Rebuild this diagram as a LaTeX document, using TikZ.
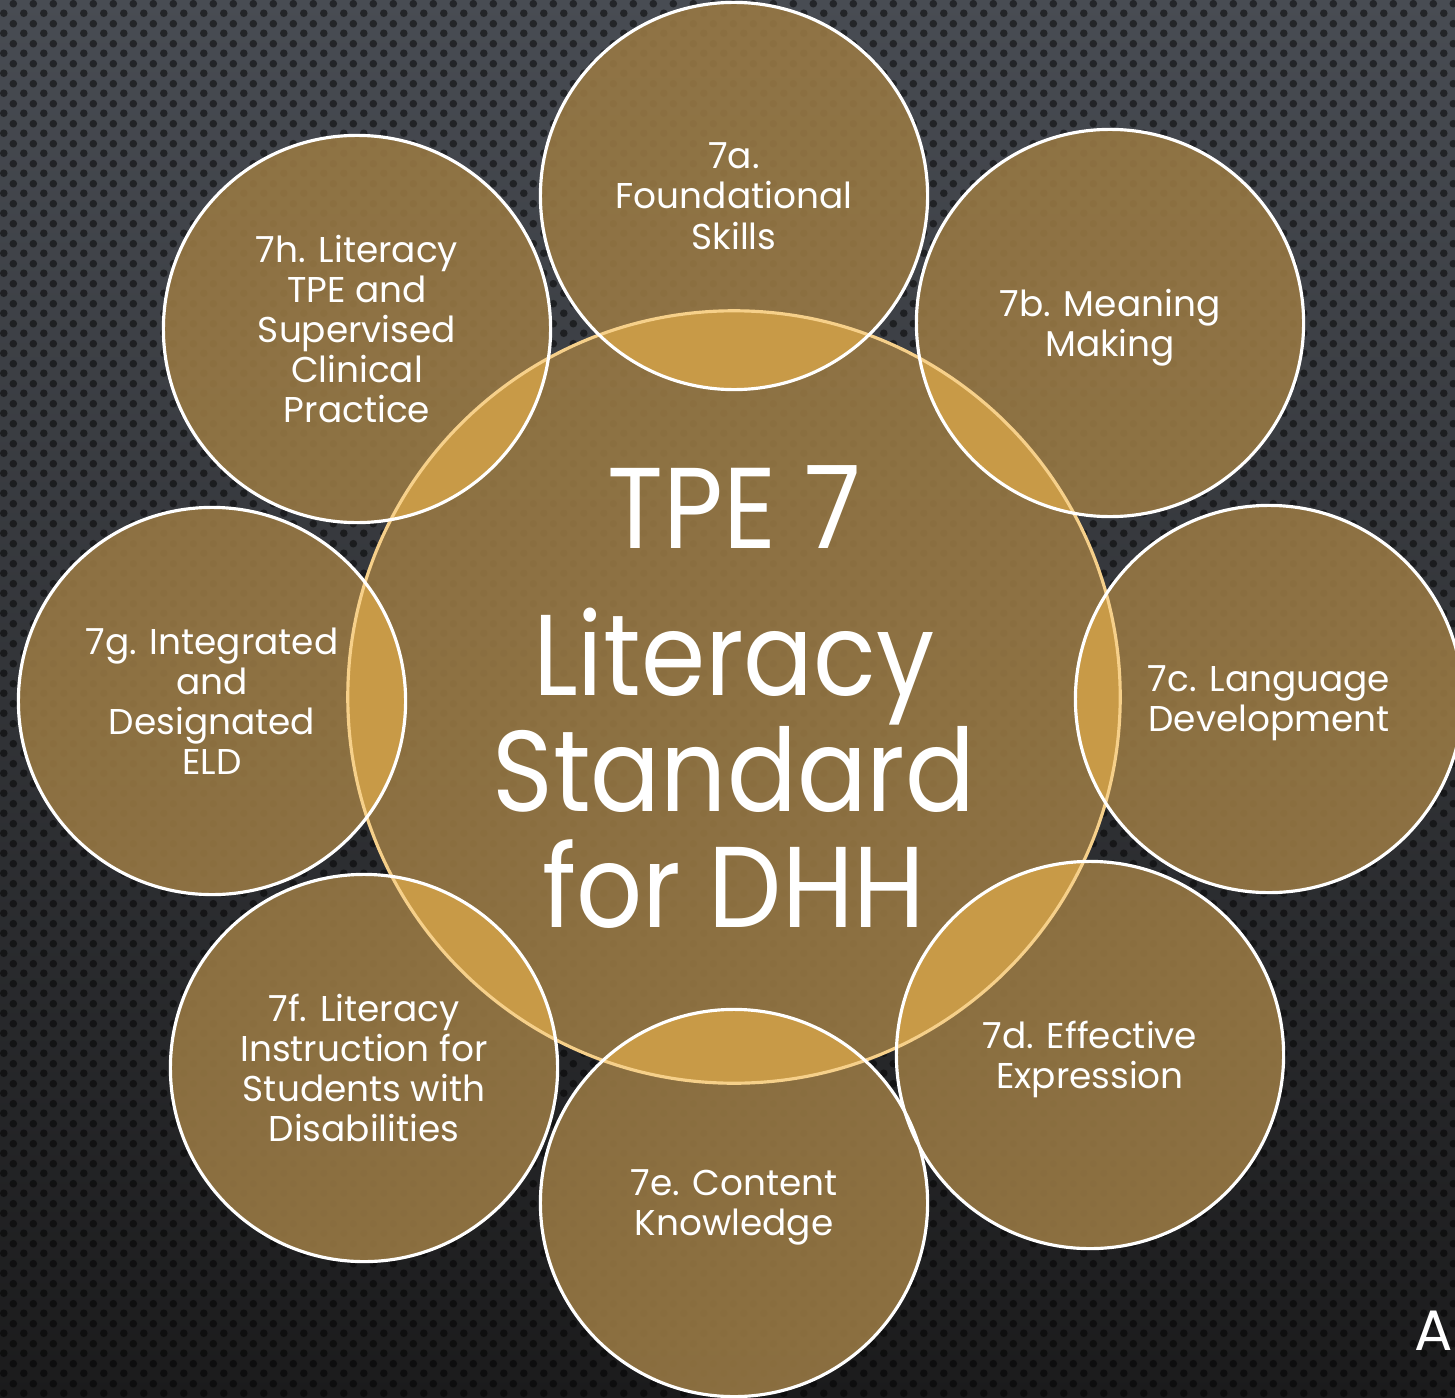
\documentclass[tikz,border=0pt]{standalone}
\usepackage{fontspec}
\setmainfont{Poppins}
\newfontfamily\corefont{Poppins}[FakeStretch=0.9]
\usetikzlibrary{patterns}
\definecolor{bgtop}{HTML}{484C53}
\definecolor{bgmid}{HTML}{2C2F34}
\definecolor{bgbot}{HTML}{1B1B1C}
\definecolor{gold}{HTML}{977844}
\definecolor{lensgold}{HTML}{CE9E48}
\definecolor{ringgold}{HTML}{F6D08A}
\pgfdeclarepatternformonly{bgdots}{\pgfqpoint{0cm}{0cm}}{\pgfqpoint{0.2cm}{0.2cm}}{\pgfqpoint{0.2cm}{0.2cm}}{%
 \pgfpathcircle{\pgfqpoint{0.05cm}{0.05cm}}{0.04cm}%
 \pgfpathcircle{\pgfqpoint{0.15cm}{0.15cm}}{0.04cm}%
 \pgfusepath{fill}}
\tikzset{
 petal/.style={circle,minimum size=3.87cm,inner sep=0pt,fill=gold,fill opacity=0.9,text opacity=1,text=white,align=center,text depth=0pt,font=\fontsize{10.2}{11.4}\selectfont},
 core/.style={circle,minimum size=7.72cm,inner sep=0pt,fill=gold,fill opacity=0.9,text opacity=1,text=white,align=center,font=\corefont\fontsize{32.7}{33}\selectfont},
}
\begin{document}
\begin{tikzpicture}[x=0.01cm,y=-0.01cm]
 \useasboundingbox (0,0) rectangle (1455,1397); %画面全体
 \shade[top color=bgtop,middle color=bgmid,bottom color=bgbot] (0,0) rectangle (1455,1397); %背景のグラデーション
 \fill[pattern=bgdots,pattern color=black,fill opacity=0.5] (0,0) rectangle (1455,1397); %背景の水玉
 \node[core] (core) at (734,697) {TPE 7\\[9pt]Literacy\\Standard\\for DHH}; %中央の大きな円
 \node[petal] (found) at (734,196) {7a.\\Foundational\\Skills}; %7a
 \node[petal] (meaning) at (1110,323) {7b. Meaning\\Making}; %7b
 \node[petal] (language) at (1269,699) {7c. Language\\Development}; %7c
 \node[petal] (express) at (1090,1055) {7d. Effective\\Expression}; %7d
 \node[petal] (content) at (734,1203) {7e. Content\\Knowledge}; %7e
 \node[petal] (disab) at (364,1068) {7f. Literacy\\Instruction for\\Students with\\Disabilities}; %7f
 \node[petal] (eld) at (212,701) {7g. Integrated\\and\\Designated\\ELD}; %7g
 \node[petal] (clinic) at (357,329) {7h. Literacy\\TPE and\\Supervised\\Clinical\\Practice}; %7h
 \foreach \p in {found,meaning,language,express,content,disab,eld,clinic}{
  \begin{scope}
   \clip (core.center) circle[radius=3.86cm];
   \fill[lensgold,fill opacity=0.9] (\p.center) circle[radius=1.935cm]; %重なり部分
  \end{scope}
 }
 \draw[ringgold,line width=0.9pt] (core.center) circle[radius=3.86cm]; %中央の円の縁
 \foreach \p in {found,meaning,language,express,content,disab,eld,clinic}
  \draw[white,line width=0.9pt] (\p.center) circle[radius=1.935cm]; %小さい円の縁
 \node[anchor=base west,inner sep=0pt,text=white,font=\fontsize{16.2}{18}\selectfont] (acc) at (1414,1350) {Ac}; %右下の切れた文字
\end{tikzpicture}
\end{document}
